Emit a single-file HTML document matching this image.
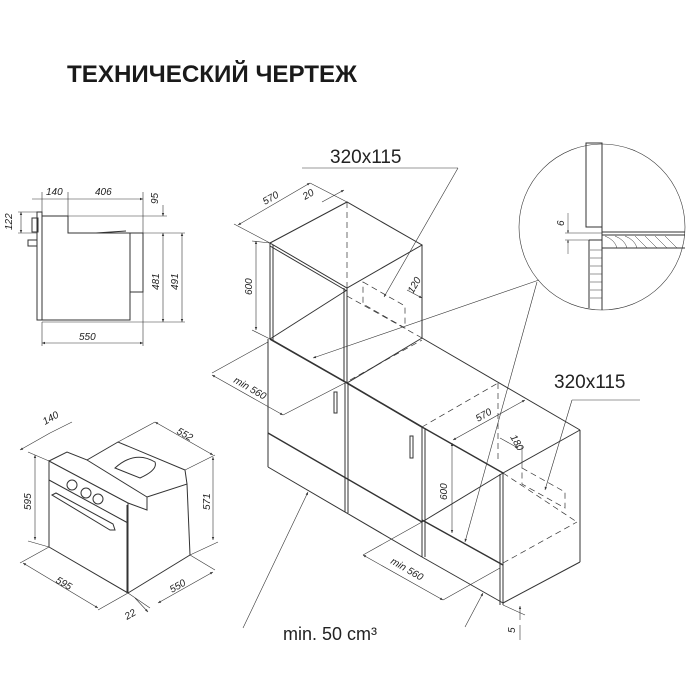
<!DOCTYPE html>
<html><head><meta charset="utf-8"><style>
html,body{margin:0;padding:0;background:#fff;}
svg{display:block}
text{font-family:"Liberation Sans","DejaVu Sans",sans-serif;fill:#222}
.d{font-style:italic;font-size:10px}
</style></head><body>
<svg width="700" height="700" viewBox="0 0 700 700" xmlns="http://www.w3.org/2000/svg">
<defs>
<marker id="a" viewBox="0 0 10 10" refX="10" refY="5" markerWidth="7" markerHeight="5" orient="auto-start-reverse"><path d="M0,1L10,5L0,9z" fill="#333"/></marker>
</defs>
<text x="67" y="82" font-size="24" font-weight="bold" textLength="290" lengthAdjust="spacingAndGlyphs" style="fill:#1a1a1a">ТЕХНИЧЕСКИЙ ЧЕРТЕЖ</text>

<g stroke="#333" fill="none" stroke-width="1">
<!-- side view -->
<rect x="37" y="212" width="5" height="108"/>
<polyline points="42,216 68,216 68,233 130,233 130,320 42,320"/>
<rect x="130" y="233" width="13" height="59"/>
<rect x="32" y="218" width="6" height="14"/>
<rect x="28" y="240" width="9" height="6"/>
<line x1="96" y1="233" x2="126" y2="231"/>
<line x1="130" y1="300" x2="130" y2="320"/>
<g stroke-width="0.6">
<line x1="42" y1="216" x2="167" y2="216"/>
<line x1="143" y1="233" x2="185" y2="233"/>
<line x1="42" y1="322" x2="185" y2="322"/>
<line x1="42" y1="192" x2="42" y2="212"/><line x1="68" y1="192" x2="68" y2="216"/><line x1="143" y1="192" x2="143" y2="233"/>
<line x1="42" y1="322" x2="42" y2="346"/><line x1="143" y1="292" x2="143" y2="346"/>
<line x1="32" y1="199" x2="143" y2="199" marker-end="url(#a)"/>
<line x1="42" y1="343" x2="143" y2="343" marker-start="url(#a)" marker-end="url(#a)"/>
<line x1="163" y1="233" x2="163" y2="322" marker-start="url(#a)" marker-end="url(#a)"/>
<line x1="182" y1="233" x2="182" y2="322" marker-start="url(#a)" marker-end="url(#a)"/>
<line x1="163" y1="205" x2="163" y2="216" marker-end="url(#a)"/>
<line x1="21" y1="212" x2="21" y2="233" marker-start="url(#a)" marker-end="url(#a)"/>
<line x1="18" y1="212" x2="37" y2="212"/><line x1="18" y1="233" x2="37" y2="233"/>
</g>

<!-- isometric oven -->
<polygon points="49,461 128,503 128,593 49,547"/>
<line x1="49" y1="480" x2="128" y2="523"/>
<polyline points="128,503 147,510 147,497 187,484 190,555 128,593"/>
<polyline points="49,461 67,452 87,460 118,442 185,470 187,484"/>
<line x1="87" y1="460" x2="147" y2="497"/>
<path d="M115,468 L140,478 Q158,470 155,462 Q135,450 115,468Z"/>
<circle cx="72" cy="485" r="5"/><circle cx="86" cy="493" r="5"/><circle cx="98" cy="499" r="5"/>
<polygon points="52,495 56,493 113,524 115,530 110,530"/>
<line x1="127" y1="505" x2="127" y2="593"/>
<g stroke-width="0.6">
<line x1="35" y1="455" x2="35" y2="540" marker-start="url(#a)" marker-end="url(#a)"/>
<line x1="28" y1="452" x2="49" y2="461"/><line x1="28" y1="541" x2="49" y2="547"/>
<line x1="20" y1="450" x2="50" y2="433" marker-start="url(#a)"/><line x1="50" y1="433" x2="72" y2="422"/>
<line x1="155" y1="422" x2="213" y2="455" marker-start="url(#a)" marker-end="url(#a)"/>
<line x1="118" y1="442" x2="155" y2="422"/><line x1="185" y1="470" x2="215" y2="455"/>
<line x1="213" y1="457" x2="213" y2="540" marker-start="url(#a)" marker-end="url(#a)"/>
<line x1="190" y1="555" x2="218" y2="542"/>
<line x1="23" y1="563" x2="98" y2="608" marker-start="url(#a)" marker-end="url(#a)"/>
<line x1="49" y1="547" x2="20" y2="563"/><line x1="128" y1="593" x2="98" y2="610"/>
<line x1="158" y1="603" x2="213" y2="572" marker-start="url(#a)" marker-end="url(#a)"/>
<line x1="190" y1="555" x2="215" y2="570"/><line x1="128" y1="593" x2="150" y2="608"/>
<line x1="135" y1="598" x2="148" y2="612" marker-end="url(#a)"/>
</g>

<!-- upper cabinet -->
<polygon points="270,243 347,202 422,245 347,288"/>
<line x1="270" y1="243" x2="270" y2="339"/><line x1="273" y1="245" x2="273" y2="340"/>
<line x1="347" y1="288" x2="347" y2="383"/><line x1="344" y1="288" x2="344" y2="382"/>
<line x1="270" y1="246" x2="347" y2="291"/>
<line x1="422" y1="245" x2="422" y2="338"/>
<line x1="270" y1="339" x2="347" y2="290"/>
<line x1="270" y1="339" x2="347" y2="383" stroke-width="1.6"/>
<line x1="347" y1="383" x2="422" y2="338"/>
<line x1="422" y1="338" x2="580" y2="430"/>
<g stroke-dasharray="6,4" stroke-width="0.7">
<line x1="347" y1="202" x2="347" y2="288"/>
<line x1="347" y1="296" x2="422" y2="338"/>
<polygon points="363,282 405,306 405,328 363,304"/>
<line x1="350" y1="380" x2="422" y2="340"/>
</g>
<!-- lower left cabinets -->
<line x1="268" y1="339" x2="268" y2="467"/>
<line x1="268" y1="433" x2="422" y2="522" stroke-width="1.4"/>
<line x1="268" y1="467" x2="422" y2="557"/>
<line x1="345" y1="383" x2="345" y2="512"/><line x1="348" y1="384" x2="348" y2="513"/>
<line x1="347" y1="383" x2="422" y2="427" stroke-width="1.6"/>
<line x1="422" y1="427" x2="422" y2="557"/><line x1="425" y1="428" x2="425" y2="557"/>
<rect x="334" y="392" width="3" height="21"/><rect x="410" y="436" width="3" height="22"/>
<!-- oven cabinet -->
<line x1="580" y1="430" x2="503" y2="473"/>
<line x1="422" y1="427" x2="503" y2="473" stroke-width="1.4"/>
<line x1="580" y1="430" x2="580" y2="562"/>
<line x1="503" y1="603" x2="580" y2="562"/>
<line x1="503" y1="473" x2="503" y2="605"/><line x1="500" y1="474" x2="500" y2="605"/>
<line x1="422" y1="522" x2="503" y2="473"/>
<line x1="422" y1="520" x2="503" y2="565" stroke-width="1.4"/>
<line x1="422" y1="557" x2="503" y2="603"/>
<g stroke-dasharray="6,4" stroke-width="0.7">
<line x1="422" y1="427" x2="498" y2="383"/>
<line x1="498" y1="383" x2="498" y2="460"/>
<line x1="503" y1="473" x2="577" y2="522"/>
<line x1="503" y1="563" x2="577" y2="522"/>
<polygon points="522,468 565,492 565,508 522,484"/>
</g>
<!-- leaders / dims -->
<g stroke-width="0.6">
<line x1="302" y1="168" x2="458" y2="168"/><line x1="458" y1="168" x2="384" y2="297" marker-end="url(#a)"/>
<line x1="238" y1="225" x2="310" y2="183" marker-start="url(#a)" marker-end="url(#a)"/>
<line x1="234" y1="224" x2="270" y2="243"/><line x1="310" y1="183" x2="347" y2="202"/>
<line x1="322" y1="202" x2="344" y2="190" marker-end="url(#a)"/>
<line x1="256" y1="241" x2="256" y2="330" marker-start="url(#a)" marker-end="url(#a)"/>
<line x1="252" y1="241" x2="270" y2="243"/><line x1="252" y1="330" x2="270" y2="339"/>
<line x1="407" y1="290" x2="422" y2="298" marker-end="url(#a)"/>
<circle cx="602" cy="227" r="83"/>
<line x1="539" y1="280" x2="313" y2="358" marker-end="url(#a)"/>
<line x1="537" y1="282" x2="465" y2="542" marker-end="url(#a)"/>
<line x1="212" y1="375" x2="283" y2="415" marker-start="url(#a)" marker-end="url(#a)"/>
<line x1="212" y1="373" x2="268" y2="342"/><line x1="283" y1="415" x2="345" y2="383"/>
<line x1="453" y1="440" x2="525" y2="400" marker-start="url(#a)" marker-end="url(#a)"/>
<line x1="500" y1="438" x2="518" y2="448" marker-end="url(#a)"/><line x1="522" y1="446" x2="522" y2="468"/>
<line x1="452" y1="443" x2="452" y2="533" marker-start="url(#a)" marker-end="url(#a)"/>
<line x1="572" y1="400" x2="640" y2="400"/><line x1="572" y1="400" x2="545" y2="490" marker-end="url(#a)"/>
<line x1="363" y1="555" x2="443" y2="600" marker-start="url(#a)" marker-end="url(#a)"/>
<line x1="363" y1="555" x2="422" y2="522"/><line x1="443" y1="600" x2="500" y2="568"/>
<line x1="243" y1="628" x2="308" y2="492" marker-end="url(#a)"/>
<line x1="465" y1="627" x2="483" y2="593" marker-end="url(#a)"/>
<line x1="520" y1="620" x2="520" y2="606" marker-end="url(#a)"/>
<line x1="520" y1="625" x2="520" y2="640"/>
<line x1="503" y1="605" x2="525" y2="615"/>
</g>
<!-- detail in circle -->
<rect x="586" y="143" width="16" height="84"/>
<line x1="602" y1="143" x2="602" y2="310"/>
<line x1="602" y1="232" x2="685" y2="232"/>
<line x1="602" y1="235" x2="685" y2="235"/>
<line x1="602" y1="248" x2="685" y2="248"/>
<line x1="589" y1="240" x2="602" y2="240"/>
<line x1="589" y1="240" x2="589" y2="308"/>
<g stroke-width="0.5">
<line x1="565" y1="233" x2="602" y2="233"/><line x1="565" y1="240" x2="589" y2="240"/>
<line x1="568" y1="213" x2="568" y2="233" marker-end="url(#a)"/><line x1="568" y1="254" x2="568" y2="240" marker-end="url(#a)"/>
<path d="M605,236 q10,4 12,12 M615,236 q10,4 12,12 M625,236 q10,4 12,12 M635,236 l12,12 M645,236 l12,12 M655,236 l12,12 M665,236 l12,12"/>
<path d="M590,250 h12 M590,258 h12 M590,266 h12 M590,274 h12 M590,282 h12 M590,290 h12 M590,298 h12"/>
</g>
</g>

<text x="330" y="163" font-size="19">320x115</text>
<text x="554" y="388" font-size="19">320x115</text>
<text x="283" y="640" font-size="18">min. 50 cm³</text>
<g class="dims">
<text class="d" x="46" y="195">140</text>
<text class="d" x="95" y="195">406</text>
<text class="d" x="79" y="340">550</text>
<text class="d" transform="translate(158,204) rotate(-90)">95</text>
<text class="d" transform="translate(12,230) rotate(-90)">122</text>
<text class="d" transform="translate(159,290) rotate(-90)">481</text>
<text class="d" transform="translate(178,290) rotate(-90)">491</text>
<text class="d" transform="translate(31,510) rotate(-90)">595</text>
<text class="d" transform="translate(210,510) rotate(-90)">571</text>
<text class="d" transform="translate(45,425) rotate(-30)">140</text>
<text class="d" transform="translate(176,433) rotate(30)">552</text>
<text class="d" transform="translate(55,582) rotate(30)">595</text>
<text class="d" transform="translate(172,593) rotate(-30)">550</text>
<text class="d" transform="translate(127,620) rotate(-30)">22</text>
<text class="d" transform="translate(265,205) rotate(-30)">570</text>
<text class="d" transform="translate(305,200) rotate(-30)">20</text>
<text class="d" transform="translate(252,295) rotate(-90)">600</text>
<text class="d" transform="translate(413,294) rotate(-60)">120</text>
<text class="d" transform="translate(233,382) rotate(30)">min 560</text>
<text class="d" transform="translate(478,422) rotate(-30)">570</text>
<text class="d" transform="translate(510,437) rotate(60)">180</text>
<text class="d" transform="translate(447,500) rotate(-90)">600</text>
<text class="d" transform="translate(390,563) rotate(30)">min 560</text>
<text class="d" transform="translate(515,633) rotate(-90)">5</text>
<text class="d" transform="translate(564,226) rotate(-90)">6</text>
</g>
</svg>
</body></html>
